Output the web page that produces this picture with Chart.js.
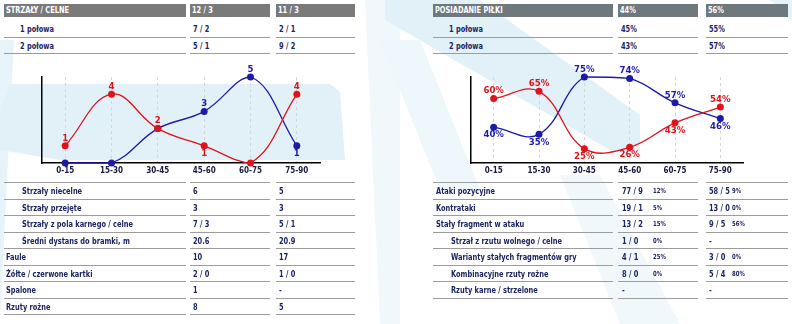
<!DOCTYPE html>
<html>
<head>
<meta charset="utf-8">
<script src="https://cdn.jsdelivr.net/npm/chart.js@4"></script>
<style>
  html, body { margin: 0; padding: 0; background: #fff; }
  #page { position: relative; width: 792px; height: 324px; overflow: hidden;
          font-family: "DejaVu Sans Condensed", "DejaVu Sans", sans-serif; font-stretch: condensed; font-weight: bold; }
  #bg { position: absolute; left: 0; top: 0; }
  .cell { position: absolute; box-sizing: border-box; border-bottom: 1px solid #9c9c9c;
          color: #1c2462; font-size: 9px; white-space: nowrap; }
  .head { position: absolute; box-sizing: border-box; background: #7a7a7a; color: #fff;
          font-size: 9px; white-space: nowrap; line-height: 13px; }
  .txt { display: inline-block; transform: scaleX(0.82); transform-origin: 0 50%; }
  .pct { position: absolute; font-size: 7px; transform: scaleX(0.85); transform-origin: 0 50%; }
  canvas { position: absolute; }
</style>
</head>
<body>
<div id="page">
  <svg id="bg" width="792" height="324">
    <polygon points="0,40 14,40 0,320" fill="#e6f3f9"/>
    <polygon points="10,84 330,84 340,92 345,160 60,160 0,150 0,110" fill="#e2f1f8"/>
    <polygon points="365,0 400,0 400,324 380,324" fill="#f0f8fc"/>
    <polygon points="385,0 480,0 640,115 640,153 610,150 385,20" fill="#e2f1f8"/>
    <polygon points="380,40 420,40 480,190 440,190" fill="#eef7fb"/>
    <polygon points="560,175 600,175 680,324 620,324" fill="#f0f8fc"/>
    <polygon points="770,0 792,0 792,20" fill="#e6f3f9"/>
  </svg>
  <canvas id="shotsChart" width="340" height="125" style="left:0px;top:60px"></canvas>
  <canvas id="possChart" width="392" height="125" style="left:400px;top:60px"></canvas>
</div>
<script>
// periods
const periods = ['0-15', '15-30', '30-45', '45-60', '60-75', '75-90'];

// shots per period
const shotsHome = [1, 4, 2, 1, 0, 4];
const shotsAway = [0, 0, 2, 3, 5, 1];

// possession per period (%)
const possHome = [60, 65, 25, 26, 43, 54];
const possAway = [40, 35, 75, 74, 57, 46];

// tables
const shotsHeader = ['STRZAŁY / CELNE', '12 / 3', '11 / 3'];
const shotsHalves = [['1 połowa', '7 / 2', '2 / 1'], ['2 połowa', '5 / 1', '9 / 2']];
const possHeader = ['POSIADANIE PIŁKI', '44%', '56%'];
const possHalves = [['1 połowa', '45%', '55%'], ['2 połowa', '43%', '57%']];

const otherStats = [
    ['Strzały niecelne', '6', '5', true],
    ['Strzały przejęte', '3', '3', true],
    ['Strzały z pola karnego / celne', '7 / 3', '5 / 1', true],
    ['Średni dystans do bramki, m', '20.6', '20.9', true],
    ['Faule', '10', '17', false],
    ['Żółte / czerwone kartki', '2 / 0', '1 / 0', false],
    ['Spalone', '1', '-', false],
    ['Rzuty rożne', '8', '5', false]
];
const attackStats = [
    ['Ataki pozycyjne', '77 / 9', '12%', '58 / 5', '9%', false],
    ['Kontrataki', '19 / 1', '5%', '13 / 0', '0%', false],
    ['Stały fragment w ataku', '13 / 2', '15%', '9 / 5', '56%', false],
    ['Strzał z rzutu wolnego / celne', '1 / 0', '0%', '-', '', true],
    ['Warianty stałych fragmentów gry', '4 / 1', '25%', '3 / 0', '0%', true],
    ['Kombinacyjne rzuty rożne', '8 / 0', '0%', '5 / 4', '80%', true],
    ['Rzuty karne / strzelone', '-', '', '-', '', true]
];

const RED = '#e0121c';
const BLUE = '#1c1aa6';
const FONT = '"DejaVu Sans Condensed", "DejaVu Sans", sans-serif';
const page = document.getElementById('page');

function addEl(cls, x, y, w, h, text, pad) {
    const d = document.createElement('div');
    d.className = cls;
    d.style.left = x + 'px';
    d.style.top = y + 'px';
    d.style.width = w + 'px';
    d.style.height = h + 'px';
    d.style.paddingLeft = pad + 'px';
    d.style.lineHeight = h + 'px';
    if (text) {
        const s = document.createElement('span');
        s.className = 'txt';
        s.textContent = text;
        d.appendChild(s);
    }
    page.appendChild(d);
    return d;
}

// cols: [x, width] for label / home / away
function drawTopTable(cols, header, rows, headColor) {
    header.forEach((t, c) => {
        const h = addEl('head', cols[c][0], 4, cols[c][1], 13, t, 2);
        h.style.background = headColor;
    });
    const tops = [21, 38];
    const hts = [17, 16];
    rows.forEach((r, i) => {
        r.forEach((t, c) => {
            addEl('cell', cols[c][0], tops[i], cols[c][1], hts[i], t, c === 0 ? 16 : 3);
        });
    });
}

drawTopTable([[4, 182], [190, 80], [276, 79]], shotsHeader, shotsHalves, '#7a7a7a');
drawTopTable([[433, 180], [618, 80], [706, 82]], possHeader, possHalves, '#6f787c');

// top border of lower tables
[[4, 182], [190, 80], [276, 79], [433, 180], [618, 80], [706, 82]].forEach(c => {
    addEl('cell', c[0], 182, c[1], 1, '', 0);
});

const ROW = 16.5;
otherStats.forEach((r, i) => {
    const y = 183 + i * ROW;
    addEl('cell', 4, y, 182, ROW, r[0], r[3] ? 18 : 2);
    addEl('cell', 190, y, 80, ROW, r[1], 3);
    addEl('cell', 276, y, 79, ROW, r[2], 3);
});
attackStats.forEach((r, i) => {
    const y = 183 + i * ROW;
    addEl('cell', 433, y, 180, ROW, r[0], r[5] ? 18 : 3);
    const a = addEl('cell', 618, y, 80, ROW, r[1], 4);
    const b = addEl('cell', 706, y, 82, ROW, r[3], 3);
    [[a, r[2], 35], [b, r[4], 26]].forEach(([el, t, x]) => {
        const s = document.createElement('span');
        s.className = 'pct';
        s.style.left = x + 'px';
        s.textContent = t;
        el.appendChild(s);
    });
});

// value labels above / below the points
const pointLabels = {
    id: 'pointLabels',
    afterDatasetsDraw(chart, args, opts) {
        const ctx = chart.ctx;
        const sets = chart.data.datasets;
        ctx.save();
        ctx.font = 'bold 9.5px ' + FONT;
        ctx.textAlign = 'center';
        sets.forEach((ds, di) => {
            const other = sets[1 - di].data;
            chart.getDatasetMeta(di).data.forEach((pt, i) => {
                const v = ds.data[i];
                if (v === 0) return;
                if (di === 1 && v === other[i]) return;
                const below = v < other[i];
                ctx.fillStyle = ds.borderColor;
                ctx.textBaseline = below ? 'top' : 'bottom';
                ctx.fillText(v + (opts.suffix || ''), pt.x, below ? pt.y + 3 : pt.y - 3);
            });
        });
        ctx.restore();
    }
};

function makeChart(id, home, away, min, max, padLeft, padRight, suffix) {
    const ds = (data, color) => ({
        data: data,
        borderColor: color,
        backgroundColor: color,
        borderWidth: 1.3,
        pointRadius: 3.5,
        pointBorderWidth: 0,
        tension: 0.4,
        clip: false
    });
    return new Chart(document.getElementById(id), {
        type: 'line',
        data: { labels: periods, datasets: [ds(home, RED), ds(away, BLUE)] },
        options: {
            responsive: false,
            animation: false,
            layout: { padding: { left: padLeft, right: padRight, top: 17, bottom: 0 } },
            plugins: { legend: { display: false }, tooltip: { enabled: false }, pointLabels: { suffix: suffix } },
            scales: {
                x: {
                    offset: true,
                    grid: { offset: false, color: '#d6d6d6', lineWidth: 1, drawTicks: false },
                    border: { color: '#000', width: 1.5, dash: [3, 3] },
                    ticks: { color: '#1a1a40', padding: 3, font: { family: FONT, weight: 'bold', size: 8 } },
                    afterFit(s) { s.height = 22; }
                },
                y: {
                    min: min,
                    max: max,
                    grid: { display: false },
                    ticks: { display: false },
                    border: { color: '#000', width: 1.5 },
                    afterFit(s) { s.width = 0; }
                }
            }
        },
        plugins: [pointLabels]
    });
}

makeChart('shotsChart', shotsHome, shotsAway, 0, 5, 42, 20, '');
makeChart('possChart', possHome, possAway, 15, 75, 71, 49, '%');
</script>
</body>
</html>
